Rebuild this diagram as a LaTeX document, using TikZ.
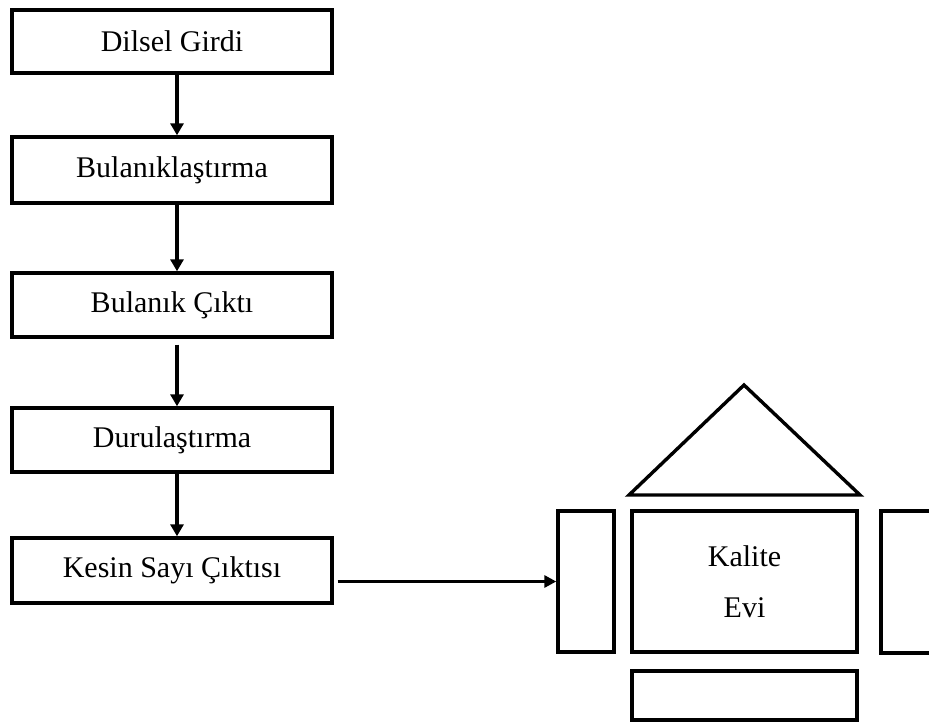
\documentclass[tikz,border=0pt]{standalone}
\usepackage{fontspec}
\setmainfont{Liberation Serif}
\usetikzlibrary{arrows.meta,calc}
\begin{document}
\begin{tikzpicture}[x=1pt,y=-1pt,
  stepbox/.style={draw=black,line width=3.4pt,rectangle,inner sep=0pt,
    minimum width=320pt,font=\fontsize{30}{36}\selectfont},
  plainbox/.style={draw=black,line width=3.4pt,rectangle,inner sep=0pt},
  flow/.style={line width=3.4pt,-{Triangle[length=12pt,width=13pt]}},
  link/.style={line width=3pt,-{Triangle[length=12pt,width=12pt]}}]
\useasboundingbox (0,0) rectangle (929,722);
\clip (0,0) rectangle (929,722);
\fill[white] (0,0) rectangle (929,722);

% process chain on the left
\node[stepbox,minimum height=63pt] (b1) at (172,41.5) {Dilsel Girdi};
\node[stepbox,minimum height=66pt] (b2) at (172,170) {Bulanıklaştırma};
\node[stepbox,minimum height=64pt] (b3) at (172,305) {Bulanık Çıktı};
\node[stepbox,minimum height=64pt] (b4) at (172,440) {Durulaştırma};
\node[stepbox,minimum height=65pt] (b5) at (172,570.5) {Kesin Sayı Çıktısı};

\coordinate (ax) at (177,0);
\draw[flow] (b1.south -| ax) -- (b2.north -| ax);
\draw[flow] (b2.south -| ax) -- (b3.north -| ax);
\draw[flow] ([yshift=-6pt]b3.south -| ax) -- (b4.north -| ax);
\draw[flow] (b4.south -| ax) -- (b5.north -| ax);

% quality house on the right
\node[plainbox,minimum width=225pt,minimum height=141pt,align=center,
  font=\fontsize{30}{51}\selectfont] (core) at (744.5,581.5) {Kalite\\Evi};
\node[plainbox,minimum width=56pt,minimum height=141pt] (lp) at (586,581.5) {};
\node[plainbox,minimum width=60pt,minimum height=142pt] (rp) at (911,582) {};
\node[plainbox,minimum width=225pt,minimum height=49pt] (base) at (744.5,695.5) {};
\draw[line width=3.4pt,line join=miter] (744,385) -- (860,495) -- (629,495) -- cycle;

\draw[link] ([xshift=4pt]b5.east |- lp.west) -- (lp.west);
\end{tikzpicture}
\end{document}
